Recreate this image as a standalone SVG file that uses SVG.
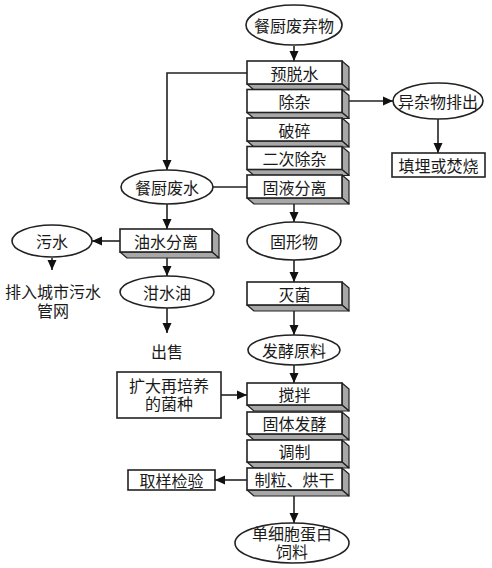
<svg xmlns="http://www.w3.org/2000/svg" width="492" height="568" viewBox="0 0 492 568">
<style>
.t{font-family:"Noto Sans CJK SC","Noto Sans",sans-serif;font-size:16px;fill:#1a1a1a;text-anchor:middle;dominant-baseline:central}
.m{font-family:"Liberation Sans","Noto Sans CJK SC",sans-serif}
.f{fill:#fff;stroke:#222;stroke-width:1.6}
.s{fill:#a8a8a8;stroke:#222;stroke-width:1.2;stroke-linejoin:round}
.c{fill:none;stroke:#222;stroke-width:1.6}
</style>
<defs>
<marker id="ah" viewBox="0 0 10 10" refX="10" refY="5" markerWidth="10" markerHeight="10" orient="auto" markerUnits="userSpaceOnUse">
<path d="M0,0.5 L10,5 L0,9.5 Z" fill="#111"/>
</marker>
</defs>
<rect width="492" height="568" fill="#fff"/>

<g id="connectors">
<line class="c" x1="294" y1="46" x2="294" y2="61" marker-end="url(#ah)"/>
<polyline class="c" points="247,73 167,73 167,170" marker-end="url(#ah)"/>
<line class="c" x1="349" y1="101" x2="393" y2="101" marker-end="url(#ah)"/>
<line class="c" x1="438" y1="119" x2="438" y2="153" marker-end="url(#ah)"/>
<line class="c" x1="213" y1="187" x2="247" y2="187"/>
<line class="c" x1="167" y1="204" x2="167" y2="229" marker-end="url(#ah)"/>
<line class="c" x1="120" y1="241" x2="92" y2="241" marker-end="url(#ah)"/>
<line class="c" x1="52" y1="258" x2="52" y2="270" marker-end="url(#ah)"/>
<line class="c" x1="167" y1="258" x2="167" y2="276" marker-end="url(#ah)"/>
<line class="c" x1="167" y1="308" x2="167" y2="333" marker-end="url(#ah)"/>
<line class="c" x1="294" y1="204" x2="294" y2="222" marker-end="url(#ah)"/>
<line class="c" x1="294" y1="260" x2="294" y2="282" marker-end="url(#ah)"/>
<line class="c" x1="294" y1="311" x2="294" y2="335" marker-end="url(#ah)"/>
<line class="c" x1="294" y1="365" x2="294" y2="383" marker-end="url(#ah)"/>
<line class="c" x1="221" y1="395" x2="247" y2="395" marker-end="url(#ah)"/>
<line class="c" x1="247" y1="480" x2="215" y2="480" marker-end="url(#ah)"/>
<line class="c" x1="294" y1="496" x2="294" y2="523" marker-end="url(#ah)"/>
</g>

<g id="n-start"><ellipse class="f" cx="294" cy="25" rx="48" ry="20"/><text class="t" x="294" y="25">餐厨废弃物</text></g>

<g id="n-predewater">
<polygon class="s" points="342,61 349,67 349,90 342,84"/><polygon class="s" points="247,84 254,90 349,90 342,84"/>
<rect class="f" x="247" y="61" width="95" height="23"/><text class="t" x="294.5" y="72.5">预脱水</text></g>
<g id="n-impurity">
<polygon class="s" points="342,89.5 349,95.5 349,118.5 342,112.5"/><polygon class="s" points="247,112.5 254,118.5 349,118.5 342,112.5"/>
<rect class="f" x="247" y="89.5" width="95" height="23"/><text class="t" x="294.5" y="101">除杂</text></g>
<g id="n-crush">
<polygon class="s" points="342,118 349,124 349,147 342,141"/><polygon class="s" points="247,141 254,147 349,147 342,141"/>
<rect class="f" x="247" y="118" width="95" height="23"/><text class="t" x="294.5" y="129.5">破碎</text></g>
<g id="n-impurity2">
<polygon class="s" points="342,146.5 349,152.5 349,175.5 342,169.5"/><polygon class="s" points="247,169.5 254,175.5 349,175.5 342,169.5"/>
<rect class="f" x="247" y="146.5" width="95" height="23"/><text class="t" x="294.5" y="158">二次除杂</text></g>
<g id="n-sl">
<polygon class="s" points="342,175 349,181 349,204 342,198"/><polygon class="s" points="247,198 254,204 349,204 342,198"/>
<rect class="f" x="247" y="175" width="95" height="23"/><text class="t" x="294.5" y="186.5">固液分离</text></g>

<g id="n-sundry"><ellipse class="f" cx="438" cy="101" rx="45" ry="18"/><text class="t" x="438" y="101">异杂物排出</text></g>
<g id="n-landfill"><rect class="f" x="392" y="153" width="93" height="24"/><text class="t" x="438.5" y="165">填埋或焚烧</text></g>

<g id="n-wastewater"><ellipse class="f" cx="167" cy="187" rx="46" ry="17"/><text class="t" x="167" y="187">餐厨废水</text></g>
<g id="n-ow">
<polygon class="s" points="212,229 219,235 219,258 212,252"/><polygon class="s" points="120,252 127,258 219,258 212,252"/>
<rect class="f" x="120" y="229" width="92" height="23"/><text class="t" x="166" y="240.5">油水分离</text></g>
<g id="n-sewage"><ellipse class="f" cx="52" cy="241" rx="40" ry="16"/><text class="t" x="52" y="241">污水</text></g>
<g id="n-drain"><text class="t m" x="53" y="292">排入城市污水<tspan x="53" dy="19">管网</tspan></text></g>
<g id="n-oil"><ellipse class="f" cx="167" cy="292" rx="47" ry="16"/><text class="t" x="167" y="292">泔水油</text></g>
<g id="n-sell"><text class="t" x="167" y="351">出售</text></g>

<g id="n-solid"><ellipse class="f" cx="294" cy="241" rx="47" ry="19"/><text class="t" x="294" y="241">固形物</text></g>
<g id="n-steril">
<polygon class="s" points="342,282 349,288 349,311 342,305"/><polygon class="s" points="247,305 254,311 349,311 342,305"/>
<rect class="f" x="247" y="282" width="95" height="23"/><text class="t" x="294.5" y="293.5">灭菌</text></g>
<g id="n-ferm"><ellipse class="f" cx="294" cy="350" rx="46" ry="15"/><text class="t" x="294" y="350">发酵原料</text></g>

<g id="n-culture"><rect class="f" x="117" y="372" width="104" height="46"/><text class="t m" x="169" y="386">扩大再培养<tspan x="169" dy="18">的菌种</tspan></text></g>

<g id="n-stir">
<polygon class="s" points="342,383 349,389 349,411 342,405"/><polygon class="s" points="247,405 254,411 349,411 342,405"/>
<rect class="f" x="247" y="383" width="95" height="22"/><text class="t" x="294.5" y="394">搅拌</text></g>
<g id="n-solidferm">
<polygon class="s" points="342,412 349,418 349,440 342,434"/><polygon class="s" points="247,434 254,440 349,440 342,434"/>
<rect class="f" x="247" y="412" width="95" height="22"/><text class="t" x="294.5" y="423">固体发酵</text></g>
<g id="n-prep">
<polygon class="s" points="342,440 349,446 349,468 342,462"/><polygon class="s" points="247,462 254,468 349,468 342,462"/>
<rect class="f" x="247" y="440" width="95" height="22"/><text class="t" x="294.5" y="451">调制</text></g>
<g id="n-gran">
<polygon class="s" points="342,468 349,474 349,496 342,490"/><polygon class="s" points="247,490 254,496 349,496 342,490"/>
<rect class="f" x="247" y="468" width="95" height="22"/><text class="t" x="294.5" y="479">制粒、烘干</text></g>

<g id="n-sample"><rect class="f" x="128" y="470" width="87" height="20"/><text class="t" x="171.5" y="480">取样检验</text></g>
<g id="n-scp"><ellipse class="f" cx="292" cy="543" rx="57" ry="20"/><text class="t m" x="292" y="534">单细胞蛋白<tspan x="292" dy="18">饲料</tspan></text></g>
</svg>
